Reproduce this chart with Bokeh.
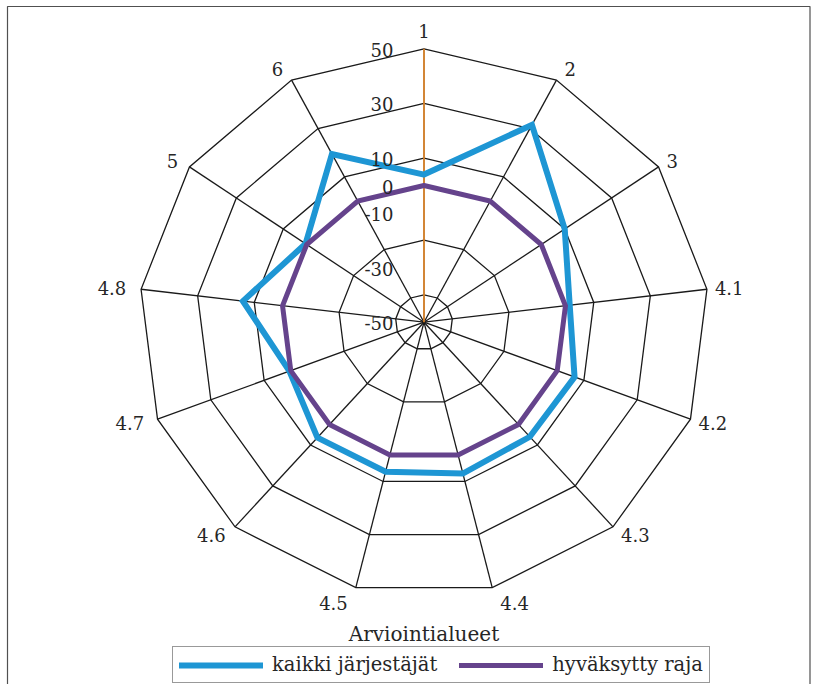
import numpy as np
from bokeh.plotting import figure
from bokeh.models import Range1d, Legend, LegendItem
from bokeh.core.properties import value
from bokeh.embed import file_html
from bokeh.resources import INLINE

# ---- data ----
categories = ["1", "2", "3", "4.1", "4.2", "4.3", "4.4", "4.5", "4.6", "4.7", "4.8", "5", "6"]
kaikki_jarjestajat = [4, 31.5, 10, 1.5, 6.5, 6, 7, 6.3, 6.4, 0.5, 14, 0.5, 19.5]
hyvaksytty_raja = [0, 0, 0, 0, 0, 0, 0, 0, 0, 0, 0, 0, 0]
ring_values = [-40, -20, 10, 30, 50]
tick_values = [50, 30, 10, 0, -10, -30, -50]
tick_labels = ["50", "30", "10", "0", "-10", "-30", "-50"]
r_min, r_max = -50, 50
axis_title = "Arviointialueet"
series_names = ["kaikki järjestäjät", "hyväksytty raja"]

# ---- layout ----
W, H = 811, 684
cx_px, cy_px = 423.5, 321.7          # centre of the radar, px from top-left of figure
R_x_px, R_y_px = 285.0, 273.4        # outer radius in px (x / y)
span = r_max - r_min
sx, sy = R_x_px / span, R_y_px / span  # px per data unit

FONT = "DejaVu Serif"
TXT = "#262626"

p = figure(width=W, height=H, output_backend="svg", toolbar_location=None,
           x_range=Range1d(-cx_px / sx, (W - cx_px) / sx),
           y_range=Range1d(-(H - cy_px) / sy, cy_px / sy),
           x_axis_location=None, y_axis_location=None, min_border=0,
           background_fill_color="white", border_fill_color="white",
           outline_line_color=None)
p.grid.visible = False


def px2x(xp):
    return (xp - cx_px) / sx


def px2y(yp):
    return (cy_px - yp) / sy


# chart-area frame
fx0, fy0, fx1, fy1 = 7, 6, W - 1.5, H + 10
p.multi_line(xs=[[px2x(fx0), px2x(fx0), px2x(fx1), px2x(fx1)]],
             ys=[[px2y(fy1), px2y(fy0), px2y(fy0), px2y(fy1)]],
             line_color="#505050", line_width=1.2)

n = len(categories)
theta = 2 * np.pi * np.arange(n) / n
S, C = np.sin(theta), np.cos(theta)


def to_xy(vals):
    r = np.asarray(vals, dtype=float) - r_min
    x = r * S
    y = r * C
    return list(np.append(x, x[0])), list(np.append(y, y[0]))


# spokes
p.segment(x0=[0] * n, y0=[0] * n, x1=list(span * S), y1=list(span * C),
          line_color="#1a1a1a", line_width=1.3)
# rings
rx, ry = [], []
for v in ring_values:
    x, y = to_xy([v] * n)
    rx.append(x)
    ry.append(y)
p.multi_line(xs=rx, ys=ry, line_color="#1a1a1a", line_width=1.3, line_join="miter")
# value axis line (orange)
p.segment(x0=[0], y0=[0], x1=[0], y1=[span], line_color="#EE8E2A", line_width=1.6)

# series
bx, by = to_xy(kaikki_jarjestajat)
px_, py_ = to_xy(hyvaksytty_raja)
r_blue = p.line(bx, by, line_color="#1E96D4", line_width=6, line_join="miter",
                line_cap="round")
r_purple = p.line(px_, py_, line_color="#65438C", line_width=5, line_join="miter",
                  line_cap="round")

# tick labels on value axis
p.text(x=[-30.5 / sx] * len(tick_values),
       y=[v - r_min - 1.0 / sy for v in tick_values],
       text=tick_labels, text_align="right", text_baseline="middle",
       text_font=value(FONT), text_font_size=value("18px"), text_color=TXT)

# category labels
for i in range(n):
    s, c = S[i], C[i]
    vx, vy = span * s, span * c
    if s > 0.2:
        align, ox = "left", 8
    elif s < -0.2:
        align, ox = "right", -(8 + 7 * s ** 4)
    else:
        align, ox = "center", 0
    oy = -(11 * c + 7 * c ** 15)   # px, downward positive
    p.text(x=[vx + ox / sx], y=[vy - oy / sy], text=[categories[i]], text_align=align,
           text_baseline="middle", text_font=value(FONT),
           text_font_size=value("18px"), text_color=TXT)

# category axis title
p.text(x=[0], y=[px2y(633)], text=[axis_title], text_align="center",
       text_baseline="middle", text_font=value(FONT), text_font_size=value("20px"),
       text_color=TXT)

legend = Legend(items=[LegendItem(label=series_names[0], renderers=[r_blue]),
                       LegendItem(label=series_names[1], renderers=[r_purple])],
                orientation="horizontal", location=(172, 1),
                border_line_color="#333333", border_line_width=1.5,
                padding=6, margin=0, spacing=22, glyph_width=84, glyph_height=20,
                label_height=20, label_standoff=9, label_text_font=FONT,
                label_text_font_size="19.5px",
                label_text_color=TXT, background_fill_color="white",
                background_fill_alpha=1.0)
p.add_layout(legend, "center")

open("out.html", "w").write(file_html(p, INLINE))
